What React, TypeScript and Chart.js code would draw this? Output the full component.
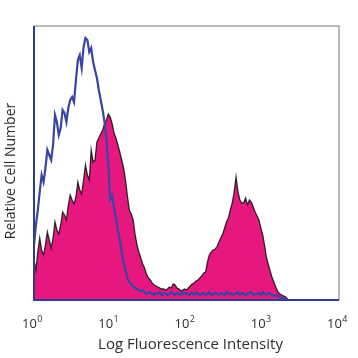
import React, { useEffect, useRef } from 'react';
import { Chart, registerables } from 'chart.js';

Chart.register(...registerables);

// Decade tick positions (log10 units) and their exponent labels
const decadeTicks = [0, 1, 2, 3, 4];
const decadeExponents = ['0', '1', '2', '3', '4'];
const tickBase = '10';
const xTitle = 'Log Fluorescence Intensity';
const yTitle = 'Relative Cell Number';

// Histogram channels: one every 0.025 decade from 10^0 to 10^4 (10 per row = 0.25 decade)
const channelStep = 0.025;

// Isotype control (blue line) — relative cell counts per channel
const isotypeCounts = [
  55, 75, 90, 108, 125, 118, 132, 150, 145, 140,
  155, 185, 178, 165, 172, 190, 187, 178, 192, 200,
  203, 198, 220, 240, 245, 232, 253, 262, 260, 248,
  252, 238, 230, 222, 210, 200, 190, 178, 160, 135,
  100, 104, 92, 82, 70, 60, 48, 38, 30, 22,
  18, 16, 13, 12, 11, 9, 9, 10, 8, 6,
  7, 8, 6, 5, 7, 6, 8, 5, 6, 7,
  5, 6, 8, 6, 5, 7, 6, 5, 8, 6,
  7, 5, 6, 7, 5, 8, 6, 5, 6, 7,
  5, 6, 8, 5, 6, 7, 6, 5, 7, 6,
  5, 8, 6, 7, 5, 6, 6, 8, 5, 7,
  6, 5, 6, 7, 8, 5, 6, 6, 7, 5,
  8, 6, 5, 7, 6, 5, 4, 5, 4, 3,
  2, 1, 1, 0, 0, 0, 0, 0, 0, 0,
  0, 0, 0, 0, 0, 0, 0, 0, 0, 0,
  0, 0, 0, 0, 0, 0, 0, 0, 0, 0,
  0,
];

// Stained sample (magenta filled) — relative cell counts per channel
const stainedCounts = [
  40, 30, 48, 62, 50, 45, 55, 68, 60, 52,
  62, 78, 70, 66, 75, 88, 85, 80, 95, 105,
  100, 96, 103, 118, 110, 106, 120, 135, 125, 120,
  150, 138, 140, 158, 162, 166, 170, 176, 180, 186,
  183, 176, 167, 162, 155, 148, 140, 132, 120, 104,
  90, 86, 80, 66, 55, 48, 42, 36, 32, 26,
  22, 20, 17, 15, 14, 13, 12, 11, 11, 10,
  11, 13, 12, 16, 15, 12, 11, 9, 10, 11,
  10, 12, 14, 16, 17, 19, 20, 22, 24, 27,
  28, 38, 45, 48, 50, 51, 53, 58, 62, 66,
  72, 78, 82, 90, 97, 108, 123, 108, 100, 97,
  97, 102, 95, 100, 98, 93, 88, 84, 80, 72,
  65, 54, 42, 35, 28, 22, 17, 12, 8, 6,
  5, 4, 3, 1, 0, 0, 0, 0, 0, 0,
  0, 0, 0, 0, 0, 0, 0, 0, 0, 0,
  0, 0, 0, 0, 0, 0, 0, 0, 0, 0,
  0,
];

const yMax = 274;

const toPoints = (vals: number[]) => vals.map((v, i) => ({ x: i * channelStep, y: v }));

const FONT = '"Open Sans", "DejaVu Sans", sans-serif';

const framePlugin = {
  id: 'frameAndTicks',
  afterDatasetsDraw(chart: any) {
    const { ctx, chartArea: a } = chart;
    ctx.save();
    ctx.strokeStyle = '#a3a3a3';
    ctx.lineWidth = 1.5;
    ctx.beginPath();
    ctx.moveTo(a.left, a.top);
    ctx.lineTo(a.right, a.top);
    ctx.lineTo(a.right, a.bottom);
    ctx.stroke();
    ctx.strokeStyle = '#2f3b8f';
    ctx.lineWidth = 2;
    ctx.beginPath();
    ctx.moveTo(a.left, a.top);
    ctx.lineTo(a.left, a.bottom);
    ctx.lineTo(a.right, a.bottom);
    ctx.stroke();

    const xs = chart.scales.x;
    ctx.fillStyle = '#2e2e2e';
    ctx.textBaseline = 'alphabetic';
    ctx.textAlign = 'left';
    decadeTicks.forEach((d, k) => {
      const px = xs.getPixelForValue(d);
      ctx.font = `13px ${FONT}`;
      const wB = ctx.measureText(tickBase).width;
      ctx.font = `9px ${FONT}`;
      const wE = ctx.measureText(decadeExponents[k]).width;
      const x0 = px - (wB + wE) / 2 - 2;
      ctx.font = `13px ${FONT}`;
      ctx.fillText(tickBase, x0, a.bottom + 28);
      ctx.font = `9px ${FONT}`;
      ctx.fillText(decadeExponents[k], x0 + wB + 0.5, a.bottom + 22);
    });

    // axis titles
    ctx.textAlign = 'center';
    ctx.textBaseline = 'middle';
    ctx.font = `15px ${FONT}`;
    ctx.fillText(xTitle, (a.left + a.right) / 2 + 4, a.bottom + 45);
    ctx.translate(11, (a.top + a.bottom) / 2 + 8);
    ctx.rotate(-Math.PI / 2);
    ctx.font = `14px ${FONT}`;
    ctx.fillText(yTitle, 0, 0);
    ctx.restore();
  },
};

export default function App() {
  const ref = useRef<HTMLCanvasElement | null>(null);
  useEffect(() => {
    if (!ref.current) return;
    const chart = new Chart(ref.current, {
      type: 'line',
      data: {
        datasets: [
          {
            label: 'Isotype',
            data: toPoints(isotypeCounts),
            borderColor: '#3944a6',
            borderWidth: 2.2,
            pointRadius: 0,
            fill: false,
            tension: 0,
            order: 0,
          },
          {
            label: 'Stained',
            data: toPoints(stainedCounts),
            borderColor: 'rgba(15,15,15,0.85)',
            backgroundColor: '#e6187f',
            borderWidth: 1.3,
            pointRadius: 0,
            fill: 'origin',
            tension: 0,
            order: 1,
          },
        ],
      },
      options: {
        animation: false,
        responsive: true,
        maintainAspectRatio: false,
        layout: { padding: { top: 26, right: 19, left: 0, bottom: 0 } },
        plugins: { legend: { display: false }, tooltip: { enabled: false } },
        scales: {
          x: {
            type: 'linear',
            min: 0,
            max: 4,
            grid: { display: false },
            border: { display: false },
            ticks: { display: false },
            afterFit: (s: any) => { s.height = 58; },
          },
          y: {
            min: 0,
            max: yMax,
            grid: { display: false },
            border: { display: false },
            ticks: { display: false },
            afterFit: (s: any) => { s.width = 34; },
          },
        },
      },
      plugins: [framePlugin],
    });
    return () => chart.destroy();
  }, []);
  return (
    <div style={{ position: 'fixed', left: 0, top: 0, width: 358, height: 358, background: '#fff' }}>
      <canvas ref={ref} />
    </div>
  );
}
